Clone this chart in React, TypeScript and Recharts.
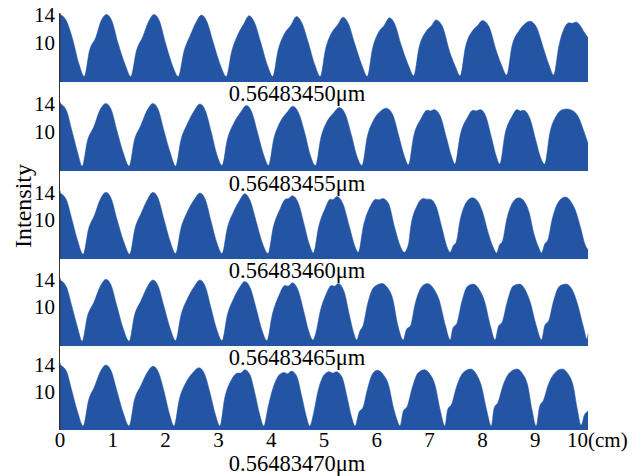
import { Area, AreaChart, XAxis, YAxis } from "recharts";

const FILL = "#2454a4";
const FRAME = "#5a5a5a";
const FONT = "'Liberation Serif', 'Times New Roman', serif";

// x ticks in cm, y ticks in intensity
const X_TICKS = [0, 1, 2, 3, 4, 5, 6, 7, 8, 9, 10];
const Y_TICKS = [10, 14];
const WAVELENGTHS = ["0.56483450μm", "0.56483455μm", "0.56483460μm", "0.56483465μm", "0.56483470μm"];

// [position cm, intensity]
const trace1: [number, number][] = [
  [0, 13.8], [0.12, 12.9], [0.24, 10.2], [0.36, 6.6], [0.46, 4.8],
  [0.56, 8.6], [0.68, 10.5], [0.78, 12.9], [0.88, 13.8], [0.98, 12.9], [1.1, 9.6], [1.24, 6.4], [1.34, 4.8],
  [1.45, 8.6], [1.57, 10.6], [1.68, 12.8], [1.78, 13.8], [1.88, 12.9], [2.0, 9.6], [2.13, 6.4], [2.24, 4.8],
  [2.35, 8.5], [2.47, 10.8], [2.58, 12.7], [2.68, 13.7], [2.78, 12.8], [2.9, 9.8], [3.04, 6.4], [3.15, 4.8],
  [3.25, 8.4], [3.37, 10.9], [3.48, 12.4], [3.58, 13.6], [3.68, 12.7], [3.8, 9.8], [3.93, 6.4], [4.03, 4.8],
  [4.13, 8.6], [4.25, 11.0], [4.37, 12.2], [4.48, 13.5], [4.58, 12.6], [4.7, 9.8], [4.83, 6.4], [4.93, 4.8],
  [5.03, 8.8], [5.15, 11.2], [5.26, 12.3], [5.36, 13.4], [5.46, 12.5], [5.58, 9.6], [5.72, 6.4], [5.82, 4.8],
  [5.92, 8.9], [6.04, 11.3], [6.14, 12.2], [6.24, 13.3], [6.34, 12.4], [6.46, 9.4], [6.6, 6.4], [6.7, 4.9],
  [6.8, 9.0], [6.94, 11.4], [7.03, 12.1], [7.12, 13.0], [7.24, 12.1], [7.38, 8.4], [7.48, 6.4], [7.58, 4.9],
  [7.68, 9.1], [7.82, 11.5], [7.91, 12.2], [8.0, 12.9], [8.12, 12.1], [8.26, 8.6], [8.36, 6.5], [8.46, 5.0],
  [8.56, 9.2], [8.7, 11.5], [8.8, 12.4], [8.9, 12.8], [9.02, 12.0], [9.16, 8.8], [9.26, 6.5], [9.35, 5.0],
  [9.45, 9.3], [9.55, 11.8], [9.64, 12.6], [9.7, 12.5], [9.77, 12.7], [9.85, 12.2], [9.93, 11.2], [10, 10.4],
];

const trace2: [number, number][] = [
  [0, 13.8], [0.12, 12.8], [0.22, 10.0], [0.33, 6.8], [0.42, 4.7],
  [0.52, 8.4], [0.64, 10.4], [0.76, 12.9], [0.87, 13.8], [0.97, 12.9], [1.08, 9.8], [1.2, 6.6], [1.31, 4.7],
  [1.41, 8.5], [1.53, 10.6], [1.65, 12.8], [1.76, 13.8], [1.86, 12.9], [1.97, 9.8], [2.09, 6.6], [2.19, 4.7],
  [2.29, 8.5], [2.41, 10.8], [2.54, 12.7], [2.65, 13.7], [2.75, 12.8], [2.86, 9.8], [2.97, 6.4], [3.07, 4.8],
  [3.17, 8.6], [3.29, 10.9], [3.42, 12.5], [3.53, 13.5], [3.63, 12.6], [3.74, 9.6], [3.86, 6.3], [3.95, 4.8],
  [4.05, 8.7], [4.17, 11.1], [4.3, 12.5], [4.41, 13.4], [4.52, 12.4], [4.64, 9.4], [4.74, 6.3], [4.84, 4.8],
  [4.94, 8.8], [5.06, 11.2], [5.18, 12.4], [5.29, 13.2], [5.4, 12.3], [5.52, 9.2], [5.62, 6.2], [5.72, 4.8],
  [5.82, 9.0], [5.94, 11.4], [6.06, 12.6], [6.18, 13.1], [6.3, 12.2], [6.42, 9.0], [6.52, 6.2], [6.6, 4.9],
  [6.7, 9.1], [6.84, 11.6], [6.95, 12.8], [7.02, 12.7], [7.08, 12.9], [7.2, 12.0], [7.32, 8.8], [7.42, 6.0], [7.48, 5.0],
  [7.58, 9.2], [7.72, 11.8], [7.82, 12.8], [7.88, 12.7], [7.96, 12.9], [8.06, 12.0], [8.18, 8.6], [8.26, 6.2], [8.33, 5.0],
  [8.43, 9.4], [8.56, 11.9], [8.66, 12.9], [8.72, 12.7], [8.78, 12.8], [8.9, 11.6], [9.02, 8.2], [9.1, 6.0], [9.18, 5.0],
  [9.28, 9.6], [9.4, 12.0], [9.52, 12.9], [9.6, 13.0], [9.72, 12.7], [9.82, 11.8], [9.92, 9.8], [10, 8.0],
];

const trace3: [number, number][] = [
  [0, 13.7], [0.12, 12.7], [0.22, 10.0], [0.33, 6.8], [0.44, 4.7],
  [0.54, 8.4], [0.65, 10.4], [0.77, 12.9], [0.87, 13.8], [0.97, 12.9], [1.08, 9.8], [1.21, 6.5], [1.32, 4.7],
  [1.42, 8.5], [1.53, 10.6], [1.66, 12.8], [1.76, 13.8], [1.86, 12.9], [1.97, 9.8], [2.09, 6.5], [2.19, 4.8],
  [2.29, 8.5], [2.41, 10.9], [2.54, 12.7], [2.65, 13.7], [2.75, 12.8], [2.86, 9.6], [2.97, 6.4], [3.07, 4.8],
  [3.17, 8.6], [3.29, 11.0], [3.4, 12.6], [3.5, 13.6], [3.6, 12.6], [3.72, 9.4], [3.84, 6.2], [3.94, 4.8],
  [4.04, 8.7], [4.16, 11.2], [4.27, 12.8], [4.33, 12.9], [4.4, 13.3], [4.51, 12.3], [4.62, 9.2], [4.72, 6.2], [4.8, 4.9],
  [4.9, 8.8], [5.02, 11.4], [5.12, 12.8], [5.17, 12.7], [5.24, 13.2], [5.36, 12.1], [5.48, 8.8], [5.58, 6.0], [5.65, 5.0],
  [5.75, 9.0], [5.88, 11.8], [5.98, 12.8], [6.04, 12.7], [6.11, 12.9], [6.22, 12.2], [6.34, 8.6], [6.44, 6.0], [6.52, 5.0],
  [6.6, 6.2], [6.64, 8.6], [6.76, 11.8], [6.88, 12.9], [6.94, 12.8], [7.01, 12.8], [7.12, 11.8], [7.24, 8.4], [7.32, 6.0], [7.39, 5.0],
  [7.45, 6.0], [7.5, 6.4], [7.58, 9.8], [7.7, 12.4], [7.81, 13.0], [7.92, 12.4], [8.0, 11.0], [8.12, 7.6], [8.2, 5.8], [8.27, 4.9],
  [8.32, 6.0], [8.38, 6.6], [8.46, 9.8], [8.58, 12.4], [8.69, 13.0], [8.8, 12.4], [8.88, 11.0], [8.98, 7.6], [9.06, 5.8], [9.12, 4.9],
  [9.18, 6.2], [9.24, 6.8], [9.32, 9.8], [9.45, 12.5], [9.57, 13.1], [9.68, 12.4], [9.76, 11.2], [9.86, 8.6], [9.95, 6.0], [10, 5.4],
];

const trace4: [number, number][] = [
  [0, 13.7], [0.12, 12.7], [0.22, 10.0], [0.33, 6.8], [0.42, 4.7],
  [0.52, 8.4], [0.64, 10.4], [0.77, 12.9], [0.87, 13.8], [0.97, 12.9], [1.08, 9.8], [1.2, 6.5], [1.31, 4.7],
  [1.41, 8.5], [1.53, 10.6], [1.66, 12.8], [1.76, 13.7], [1.86, 12.8], [1.97, 9.8], [2.09, 6.5], [2.19, 4.8],
  [2.29, 8.5], [2.41, 10.9], [2.54, 12.7], [2.65, 13.7], [2.75, 12.8], [2.86, 9.6], [2.97, 6.4], [3.07, 4.8],
  [3.17, 8.6], [3.29, 11.0], [3.4, 12.6], [3.5, 13.5], [3.6, 12.6], [3.72, 9.4], [3.83, 6.2], [3.92, 4.8],
  [4.02, 8.6], [4.14, 11.3], [4.26, 12.9], [4.32, 12.8], [4.4, 13.3], [4.51, 12.2], [4.62, 9.0], [4.71, 6.2], [4.79, 4.9],
  [4.86, 6.4], [4.92, 8.8], [5.04, 11.6], [5.14, 12.9], [5.2, 12.8], [5.27, 13.2], [5.38, 12.0], [5.48, 8.6], [5.56, 6.0], [5.62, 4.9],
  [5.68, 6.2], [5.74, 7.0], [5.82, 10.0], [5.94, 12.6], [6.1, 13.2], [6.2, 12.6], [6.3, 11.0], [6.4, 7.0], [6.5, 4.9],
  [6.56, 6.4], [6.64, 7.0], [6.72, 10.0], [6.86, 12.8], [6.96, 13.2], [7.08, 12.4], [7.18, 10.8], [7.3, 7.0], [7.39, 4.9],
  [7.44, 6.6], [7.52, 7.4], [7.6, 10.2], [7.72, 12.8], [7.83, 13.1], [7.94, 12.3], [8.04, 10.6], [8.15, 7.0], [8.24, 4.9],
  [8.3, 6.8], [8.38, 7.6], [8.46, 10.2], [8.58, 12.8], [8.7, 13.1], [8.8, 12.4], [8.9, 10.6], [9.02, 7.0], [9.12, 4.9],
  [9.18, 7.0], [9.26, 7.8], [9.34, 10.4], [9.46, 12.8], [9.58, 13.1], [9.7, 12.3], [9.8, 10.2], [9.92, 6.6], [9.98, 5.0], [10, 5.8],
];

const trace5: [number, number][] = [
  [0, 13.7], [0.12, 12.8], [0.22, 10.0], [0.33, 6.8], [0.44, 4.6],
  [0.54, 8.4], [0.65, 10.4], [0.77, 12.8], [0.87, 13.7], [0.97, 12.8], [1.08, 9.8], [1.2, 6.5], [1.31, 4.6],
  [1.41, 8.5], [1.53, 10.6], [1.66, 12.7], [1.76, 13.5], [1.86, 12.7], [1.97, 9.8], [2.07, 6.5], [2.16, 4.6],
  [2.26, 8.6], [2.38, 11.0], [2.52, 12.6], [2.63, 13.3], [2.73, 12.5], [2.84, 9.6], [2.94, 6.4], [3.03, 4.6],
  [3.12, 8.8], [3.24, 11.4], [3.37, 12.5], [3.42, 12.5], [3.5, 13.0], [3.6, 12.2], [3.7, 9.2], [3.78, 6.4], [3.86, 4.6],
  [3.94, 7.4], [4.04, 10.4], [4.16, 12.3], [4.25, 12.6], [4.31, 12.4], [4.38, 12.8], [4.48, 12.1], [4.58, 9.0], [4.66, 6.2], [4.73, 4.6],
  [4.8, 6.4], [4.88, 9.6], [5.0, 12.2], [5.1, 12.7], [5.17, 12.5], [5.23, 12.7], [5.34, 11.9], [5.44, 8.8], [5.52, 6.0], [5.59, 4.6],
  [5.66, 6.6], [5.74, 7.4], [5.82, 10.0], [5.92, 12.4], [6.01, 12.9], [6.12, 12.3], [6.22, 10.8], [6.32, 7.2], [6.38, 5.6], [6.44, 4.6],
  [6.5, 6.8], [6.58, 7.6], [6.66, 10.0], [6.78, 12.5], [6.9, 13.0], [7.0, 12.4], [7.1, 10.8], [7.2, 7.0], [7.29, 4.6],
  [7.34, 7.0], [7.42, 7.9], [7.5, 10.2], [7.64, 12.6], [7.78, 13.1], [7.88, 12.4], [7.98, 10.6], [8.08, 7.0], [8.17, 4.6],
  [8.22, 7.2], [8.3, 8.2], [8.38, 10.4], [8.52, 12.6], [8.66, 13.1], [8.76, 12.4], [8.86, 10.6], [8.94, 7.0], [9.02, 4.6],
  [9.08, 7.4], [9.16, 8.5], [9.24, 10.6], [9.38, 12.6], [9.51, 13.1], [9.62, 12.4], [9.72, 10.6], [9.8, 7.0], [9.87, 4.7], [9.93, 6.2], [10, 6.8],
];

const TRACES = [trace1, trace2, trace3, trace4, trace5];

// layout (page px)
const PANEL_TOP = [13, 102, 191, 278, 363];
const PANEL_H = [69, 69, 68, 68, 67];
const LABEL_Y = [93, 183, 270, 357, 462.5];

const YTick = (props: any) => {
  const { x, y, payload } = props;
  return (
    <text x={x} y={y + 9} textAnchor="end" fontSize={21} fontFamily={FONT} fill="#000">
      {payload.value}
    </text>
  );
};

const XTick = (props: any) => {
  const { x, y, payload } = props;
  const isLast = payload.value === 10;
  return (
    <text
      x={isLast ? x - 21 : x}
      y={y + 16.5}
      textAnchor={isLast ? "start" : "middle"}
      fontSize={21}
      fontFamily={FONT}
      fill="#000"
    >
      {isLast ? "10(cm)" : payload.value}
    </text>
  );
};

function Panel({ points, top, height, last }: { points: [number, number][]; top: number; height: number; last: boolean }) {
  const data = points.map(([x, v]) => ({ x, v }));
  const padTop = 12;
  const axisH = last ? 30 : 0;
  return (
    <div style={{ position: "absolute", left: 0, top: top - padTop }}>
      <AreaChart
        width={643}
        height={height + padTop + axisH + 2}
        data={data}
        margin={{ top: padTop, right: 55, bottom: 2, left: 0 }}
      >
        <XAxis
          dataKey="x"
          type="number"
          domain={[0, 10]}
          ticks={X_TICKS}
          interval={0}
          hide={!last}
          height={axisH}
          axisLine={false}
          tickLine={false}
          tickSize={0}
          tickMargin={0}
          tick={XTick}
        />
        <XAxis
          xAxisId="top"
          orientation="top"
          dataKey="x"
          type="number"
          domain={[0, 10]}
          ticks={X_TICKS.slice(1, 10)}
          interval={0}
          height={0}
          mirror
          tickSize={2}
          tick={false}
          axisLine={{ stroke: FRAME }}
          tickLine={{ stroke: FRAME }}
        />
        <YAxis
          domain={[4, 14]}
          ticks={Y_TICKS}
          width={60}
          axisLine={{ stroke: "#333" }}
          tickLine={false}
          tickSize={0}
          tickMargin={5}
          tick={YTick}
        />
        <YAxis
          yAxisId="right"
          orientation="right"
          domain={[4, 14]}
          ticks={[10]}
          width={0}
          mirror
          tickSize={3}
          tick={false}
          axisLine={{ stroke: FRAME }}
          tickLine={{ stroke: FRAME }}
        />
        <Area
          type="monotone"
          dataKey="v"
          stroke={FILL}
          strokeWidth={0.5}
          fill={FILL}
          fillOpacity={1}
          dot={false}
          activeDot={false}
          isAnimationActive={false}
        />
      </AreaChart>
    </div>
  );
}

export default function App() {
  return (
    <div style={{ position: "absolute", left: 0, top: 0, width: 643, height: 476, background: "#fff" }}>
      {TRACES.map((t, i) => (
        <Panel key={i} points={t} top={PANEL_TOP[i]} height={PANEL_H[i]} last={i === TRACES.length - 1} />
      ))}
      {/* continuous left spine between panels */}
      <div style={{ position: "absolute", left: 59, top: 13, width: 1, height: 417, background: "#333" }} />
      <svg width={643} height={476} style={{ position: "absolute", left: 0, top: 0, pointerEvents: "none" }}>
        {WAVELENGTHS.map((w, i) => (
          <text key={w} x={297} y={LABEL_Y[i] + 8} textAnchor="middle" fontSize={22.5} fontFamily={FONT} fill="#000">
            {w}
          </text>
        ))}
        <text transform="translate(31, 206) rotate(-90)" textAnchor="middle" fontSize={24} fontFamily={FONT} fill="#000">
          Intensity
        </text>
      </svg>
    </div>
  );
}
